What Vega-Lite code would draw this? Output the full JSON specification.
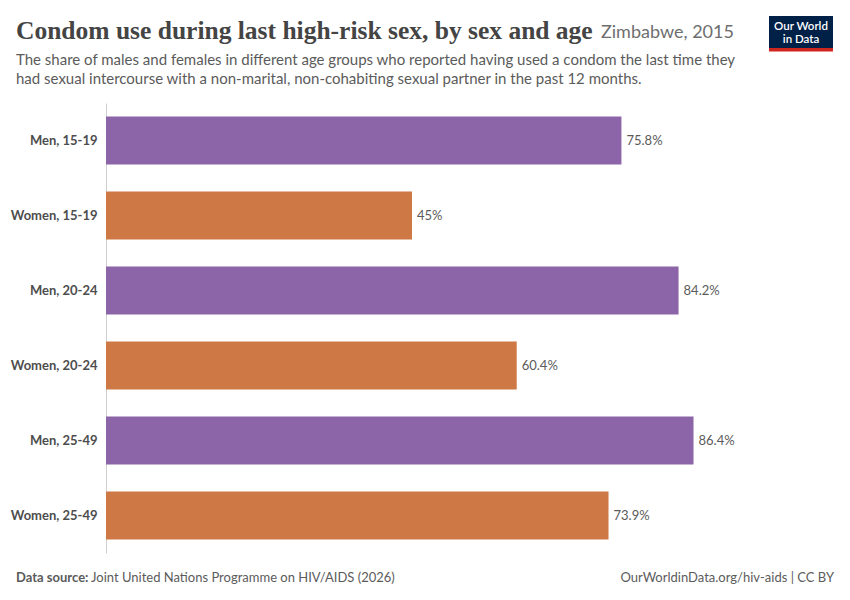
{
  "$schema": "https://vega.github.io/schema/vega-lite/v6.json",
  "description": "Condom use during last high-risk sex, by sex and age, Zimbabwe 2015.",
  "width": 680,
  "height": 450,
  "autosize": {"type": "none"},
  "padding": {"left": 106, "top": 103, "right": 64, "bottom": 47},
  "background": "white",
  "view": {"stroke": null},

  "title": {
    "text": "Condom use during last high-risk sex, by sex and age",
    "subtitle": [
      "The share of males and females in different age groups who reported having used a condom the last time they",
      "had sexual intercourse with a non-marital, non-cohabiting sexual partner in the past 12 months."
    ],
    "anchor": "start",
    "frame": "group",
    "dx": -90,
    "font": "Liberation Serif",
    "fontSize": 25.5,
    "fontWeight": "bold",
    "color": "#444444",
    "subtitleFont": "Lato",
    "subtitleFontSize": 15,
    "subtitleColor": "#5b5b5b",
    "subtitleLineHeight": 19,
    "subtitlePadding": 9,
    "offset": -71
  },

  "datasets": {
    "condoms": [
      {"group": "Men, 15-19", "sex": "Men", "share": 0.758},
      {"group": "Women, 15-19", "sex": "Women", "share": 0.45},
      {"group": "Men, 20-24", "sex": "Men", "share": 0.842},
      {"group": "Women, 20-24", "sex": "Women", "share": 0.604},
      {"group": "Men, 25-49", "sex": "Men", "share": 0.864},
      {"group": "Women, 25-49", "sex": "Women", "share": 0.739}
    ]
  },

  "layer": [
    {
      "data": {"name": "condoms"},
      "mark": {"type": "bar"},
      "encoding": {
        "y": {
          "field": "group",
          "type": "nominal",
          "sort": null,
          "title": null,
          "scale": {"paddingInner": 0.36, "paddingOuter": 0.18},
          "axis": {
            "ticks": false,
            "domainColor": "#d0d0d0",
            "labelFont": "Lato",
            "labelFontSize": 13,
            "labelFontWeight": "bold",
            "labelColor": "#4d4d4d",
            "labelPadding": 9
          }
        },
        "x": {
          "field": "share",
          "type": "quantitative",
          "scale": {"domain": [0, 1]},
          "axis": null
        },
        "color": {
          "field": "sex",
          "type": "nominal",
          "scale": {"domain": ["Men", "Women"], "range": ["#8c65a8", "#ce7945"]},
          "legend": null
        }
      }
    },
    {
      "data": {"name": "condoms"},
      "mark": {
        "type": "text",
        "align": "left",
        "dx": 5,
        "font": "Lato",
        "fontSize": 13,
        "color": "#5b5b5b"
      },
      "encoding": {
        "y": {"field": "group", "type": "nominal", "sort": null},
        "x": {"field": "share", "type": "quantitative"},
        "text": {"field": "share", "type": "quantitative", "format": ".3~%"}
      }
    },
    {
      "data": {"values": [{"note": "Zimbabwe, 2015"}]},
      "mark": {
        "type": "text",
        "align": "left",
        "baseline": "alphabetic",
        "font": "Lato",
        "fontSize": 18,
        "color": "#6e6e6e"
      },
      "encoding": {
        "text": {"field": "note"},
        "x": {"value": 495},
        "y": {"value": -65}
      }
    },
    {
      "data": {"values": [{"note": "Data source:"}]},
      "mark": {
        "type": "text",
        "align": "left",
        "baseline": "alphabetic",
        "font": "Lato",
        "fontSize": 13,
        "fontWeight": "bold",
        "color": "#5b5b5b"
      },
      "encoding": {
        "text": {"field": "note"},
        "x": {"value": -90},
        "y": {"value": 479}
      }
    },
    {
      "data": {"values": [{"note": "Joint United Nations Programme on HIV/AIDS (2026)"}]},
      "mark": {
        "type": "text",
        "align": "left",
        "baseline": "alphabetic",
        "font": "Lato",
        "fontSize": 13,
        "color": "#5b5b5b"
      },
      "encoding": {
        "text": {"field": "note"},
        "x": {"value": -15},
        "y": {"value": 479}
      }
    },
    {
      "data": {"values": [{"note": "OurWorldinData.org/hiv-aids | CC BY"}]},
      "mark": {
        "type": "text",
        "align": "right",
        "baseline": "alphabetic",
        "font": "Lato",
        "fontSize": 13,
        "color": "#5b5b5b"
      },
      "encoding": {
        "text": {"field": "note"},
        "x": {"value": 728},
        "y": {"value": 479}
      }
    },
    {
      "data": {"values": [{"part": "box"}]},
      "mark": {"type": "rect", "color": "#002147"},
      "encoding": {
        "x": {"value": 663},
        "x2": {"value": 727},
        "y": {"value": -87},
        "y2": {"value": -52}
      }
    },
    {
      "data": {"values": [{"part": "bar"}]},
      "mark": {"type": "rect", "color": "#ce261e"},
      "encoding": {
        "x": {"value": 663},
        "x2": {"value": 727},
        "y": {"value": -55},
        "y2": {"value": -51.5}
      }
    },
    {
      "data": {"values": [{"line": "Our World"}]},
      "mark": {
        "type": "text",
        "align": "center",
        "baseline": "alphabetic",
        "font": "Lato",
        "fontSize": 11.5,
        "fontWeight": 600,
        "color": "white"
      },
      "encoding": {
        "text": {"field": "line"},
        "x": {"value": 695},
        "y": {"value": -73}
      }
    },
    {
      "data": {"values": [{"line": "in Data"}]},
      "mark": {
        "type": "text",
        "align": "center",
        "baseline": "alphabetic",
        "font": "Lato",
        "fontSize": 11.5,
        "fontWeight": 600,
        "color": "white"
      },
      "encoding": {
        "text": {"field": "line"},
        "x": {"value": 695},
        "y": {"value": -60.5}
      }
    }
  ]
}
